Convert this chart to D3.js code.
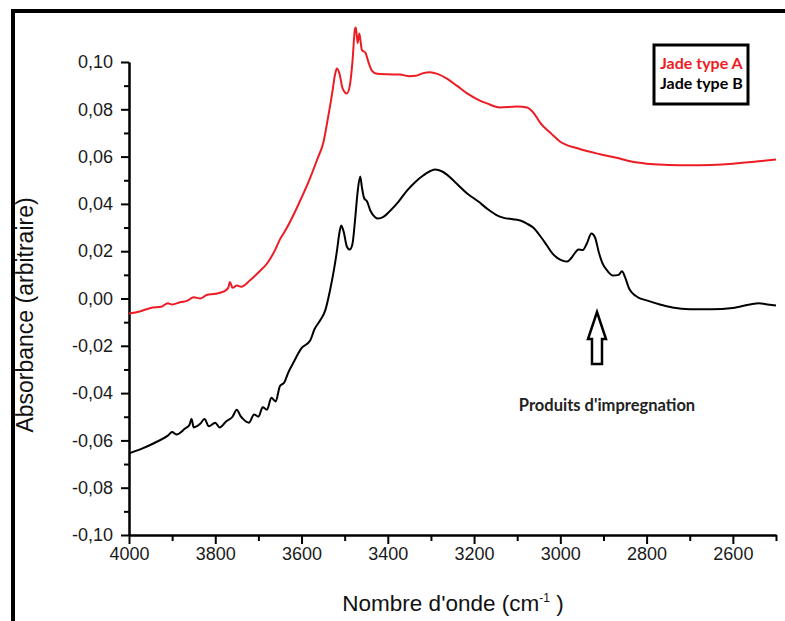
<!DOCTYPE html>
<html>
<head>
<meta charset="utf-8">
<script src="https://cdn.jsdelivr.net/npm/d3@7"></script>
<style>
  body { margin: 0; background: #fff; }
  svg { display: block; }
</style>
</head>
<body>
<script>
"use strict"

const w = 785;
const h = 621;

// spectre "Jade type A" (rouge)
const waveA = [4000, 3975, 3950, 3925, 3910, 3900, 3880, 3866, 3850, 3835, 3820, 3800, 3780, 3770, 3766, 3760,
	3750, 3740, 3720, 3700, 3680, 3660, 3650, 3640, 3625, 3604, 3580, 3562, 3550, 3540, 3529, 3522, 3518, 3512,
	3505, 3495, 3488, 3482, 3476, 3474, 3470, 3466, 3460, 3452, 3445, 3437, 3425, 3400, 3372, 3350, 3335, 3318,
	3302, 3285, 3263, 3240, 3216, 3190, 3170, 3140, 3100, 3077, 3060, 3047, 3020, 3001, 2960, 2908, 2870, 2838,
	2800, 2750, 2700, 2650, 2600, 2550, 2500];
const absA = [-0.0063, -0.0055, -0.004, -0.0035, -0.002, -0.0025, -0.0015, -0.001, 0.0005, 0.0, 0.0015, 0.002,
	0.003, 0.0045, 0.007, 0.0045, 0.0055, 0.005, 0.0076, 0.011, 0.0148, 0.021, 0.025, 0.028, 0.033, 0.041, 0.051,
	0.0596, 0.0655, 0.075, 0.0867, 0.095, 0.0972, 0.095, 0.089, 0.0867, 0.09, 0.1, 0.114, 0.1146, 0.108, 0.112,
	0.105, 0.104, 0.1, 0.0964, 0.095, 0.0948, 0.0947, 0.094, 0.0942, 0.0953, 0.0957, 0.095, 0.093, 0.09, 0.0867,
	0.084, 0.0825, 0.0808, 0.0812, 0.0808, 0.078, 0.0744, 0.0695, 0.0664, 0.0635, 0.061, 0.0595, 0.058, 0.057,
	0.0565, 0.0563, 0.0565, 0.057, 0.0578, 0.0588];

// spectre "Jade type B" (noir)
const waveB = [4000, 3970, 3940, 3910, 3900, 3890, 3870, 3860, 3855, 3850, 3835, 3825, 3815, 3800, 3790, 3775,
	3760, 3750, 3742, 3735, 3722, 3710, 3700, 3690, 3680, 3670, 3660, 3650, 3640, 3630, 3620, 3600, 3580, 3570,
	3557, 3545, 3534, 3525, 3518, 3512, 3508, 3502, 3495, 3488, 3482, 3476, 3470, 3464, 3460, 3455, 3448, 3440,
	3430, 3423, 3410, 3395, 3375, 3355, 3335, 3318, 3300, 3290, 3275, 3263, 3240, 3216, 3190, 3170, 3150, 3133,
	3110, 3093, 3078, 3063, 3045, 3031, 3018, 3008, 2995, 2984, 2975, 2965, 2958, 2948, 2938, 2928, 2920, 2910,
	2903, 2890, 2878, 2865, 2857, 2850, 2840, 2834, 2820, 2800, 2769, 2740, 2700, 2650, 2600, 2560, 2540, 2520, 2500];
const absB = [-0.0655, -0.0635, -0.061, -0.058, -0.0565, -0.0575, -0.055, -0.0535, -0.051, -0.0545, -0.053,
	-0.051, -0.054, -0.0525, -0.0545, -0.052, -0.05, -0.047, -0.0495, -0.051, -0.0525, -0.049, -0.05, -0.046,
	-0.047, -0.042, -0.0435, -0.037, -0.0355, -0.031, -0.0275, -0.021, -0.0178, -0.013, -0.0093, -0.005, 0.0034,
	0.012, 0.02, 0.028, 0.0309, 0.028, 0.022, 0.0207, 0.023, 0.033, 0.045, 0.0516, 0.047, 0.0425, 0.041, 0.037,
	0.0345, 0.0338, 0.0345, 0.037, 0.041, 0.0457, 0.0495, 0.052, 0.054, 0.0545, 0.0538, 0.0524, 0.0485, 0.0444,
	0.041, 0.038, 0.0355, 0.0342, 0.0335, 0.033, 0.0317, 0.03, 0.026, 0.0224, 0.019, 0.0173, 0.016, 0.0156, 0.017,
	0.0195, 0.0207, 0.0205, 0.0235, 0.0275, 0.026, 0.019, 0.0152, 0.0115, 0.0097, 0.01, 0.0115, 0.009, 0.004,
	0.0025, 0.0005, -0.0008, -0.0025, -0.0038, -0.0045, -0.0045, -0.004, -0.0025, -0.002, -0.0025, -0.003];

const xTicks = [4000, 3800, 3600, 3400, 3200, 3000, 2800, 2600];
const xMinor = [3900, 3700, 3500, 3300, 3100, 2900, 2700, 2500];
const yTicks = [0.10, 0.08, 0.06, 0.04, 0.02, 0.00, -0.02, -0.04, -0.06, -0.08, -0.10];
const yMinor = [0.09, 0.07, 0.05, 0.03, 0.01, -0.01, -0.03, -0.05, -0.07, -0.09];

const seriesNames = ["Jade type A", "Jade type B"];
const seriesColors = ["#ed1c24", "#000000"];

const frLocale = d3.formatLocale({decimal: ",", thousands: ".", grouping: [3], currency: ["", ""], minus: "-"});
const fmt = frLocale.format(".2f");

const mySvg = d3.select("body")
	.append("svg")
	.attr("width", w)
	.attr("height", h);

// cadre noir autour de la figure
mySvg.append("rect")
	.attr("x", 13)
	.attr("y", 11)
	.attr("width", 800)
	.attr("height", 640)
	.attr("fill", "none")
	.attr("stroke", "#000")
	.attr("stroke-width", 4);

const xScale = d3.scaleLinear()
	.domain([4000, 2500])
	.range([129, 776]);

const yScale = d3.scaleLinear()
	.domain([-0.10, 0.10])
	.range([535, 62]);

function styleAxis(g) {
	g.select(".domain").attr("stroke-width", 2);
	g.selectAll(".tick line").attr("stroke-width", 2);
	g.selectAll("text")
		.attr("font-family", "'Liberation Sans', Arial, sans-serif")
		.attr("font-size", 18)
		.attr("fill", "#1a1a1a");
}

mySvg.append("g")
	.attr("transform", "translate(0," + 535 + ")")
	.call(d3.axisBottom(xScale).tickValues(xMinor).tickSize(6).tickSizeOuter(0).tickFormat(""))
	.call(styleAxis);

mySvg.append("g")
	.attr("transform", "translate(0," + 535 + ")")
	.call(d3.axisBottom(xScale).tickValues(xTicks).tickSize(9).tickSizeOuter(0).tickPadding(3).tickFormat(d => d))
	.call(styleAxis);

mySvg.append("g")
	.attr("transform", "translate(" + 129 + ",0)")
	.call(d3.axisLeft(yScale).tickValues(yMinor).tickSize(5).tickSizeOuter(0).tickFormat(""))
	.call(styleAxis);

mySvg.append("g")
	.attr("transform", "translate(" + 129 + ",0)")
	.call(d3.axisLeft(yScale).tickValues(yTicks).tickSize(8).tickSizeOuter(0).tickPadding(8).tickFormat(fmt))
	.call(styleAxis);

const line = d3.line()
	.x(d => xScale(d[0]))
	.y(d => yScale(d[1]))
	.curve(d3.curveMonotoneX);

const series = [d3.zip(waveA, absA), d3.zip(waveB, absB)];

mySvg.selectAll("path.spectre")
	.data(series)
	.enter()
	.append("path")
	.attr("class", "spectre")
	.attr("d", line)
	.attr("fill", "none")
	.attr("stroke", (d, i) => seriesColors[i])
	.attr("stroke-width", 2)
	.attr("stroke-linejoin", "round");

// titres des axes
mySvg.append("text")
	.attr("transform", "translate(33,315) rotate(-90)")
	.attr("text-anchor", "middle")
	.attr("font-family", "'Liberation Sans', Arial, sans-serif")
	.attr("font-size", 23)
	.attr("fill", "#111")
	.text("Absorbance (arbitraire)");

const xTitle = mySvg.append("text")
	.attr("x", 453)
	.attr("y", 611)
	.attr("text-anchor", "middle")
	.attr("font-family", "'Liberation Sans', Arial, sans-serif")
	.attr("font-size", 22.5)
	.attr("fill", "#111");
xTitle.append("tspan").text("Nombre d'onde (cm");
xTitle.append("tspan").attr("dy", -9).attr("font-size", 12).text("-1");
xTitle.append("tspan").attr("dy", 9).text(" )");

// légende
mySvg.append("rect")
	.attr("x", 654)
	.attr("y", 45)
	.attr("width", 94)
	.attr("height", 59)
	.attr("fill", "#fff")
	.attr("stroke", "#000")
	.attr("stroke-width", 3);

mySvg.selectAll("text.legende")
	.data(seriesNames)
	.enter()
	.append("text")
	.attr("class", "legende")
	.attr("x", 660)
	.attr("y", (d, i) => 69 + i * 20)
	.attr("font-family", "Lato, 'Open Sans', sans-serif")
	.attr("font-weight", "bold")
	.attr("font-size", 16)
	.attr("fill", (d, i) => seriesColors[i])
	.text(d => d);

// flèche creuse et annotation
const ax = xScale(2915);
mySvg.append("path")
	.attr("d", "M" + ax + ",312 L" + (ax + 9) + ",339 L" + (ax + 5) + ",339 L" + (ax + 5) + ",364 L" + (ax - 5) + ",364 L"
		+ (ax - 5) + ",339 L" + (ax - 9) + ",339 Z")
	.attr("fill", "#fff")
	.attr("stroke", "#000")
	.attr("stroke-width", 2.5)
	.attr("stroke-linejoin", "miter");

mySvg.append("text")
	.attr("x", 607)
	.attr("y", 411)
	.attr("text-anchor", "middle")
	.attr("font-family", "Lato, 'Open Sans', sans-serif")
	.attr("font-weight", "bold")
	.attr("font-size", 16.5)
	.attr("fill", "#222")
	.text("Produits d'impregnation");
</script>
</body>
</html>
